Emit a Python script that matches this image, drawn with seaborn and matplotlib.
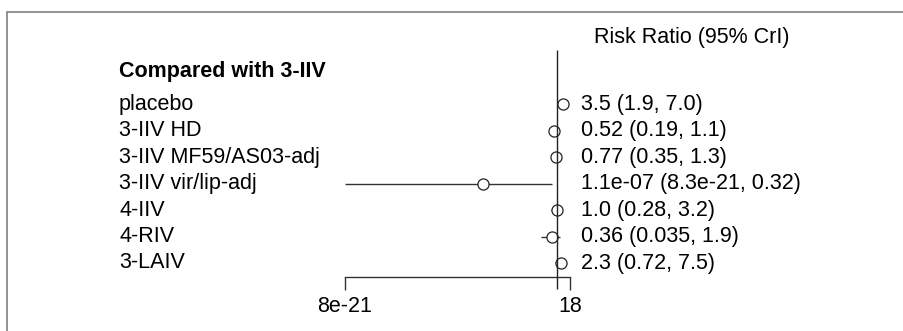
import matplotlib
matplotlib.use("Agg")
import matplotlib.pyplot as plt
from matplotlib.lines import Line2D
import matplotlib.transforms as mtransforms
import seaborn as sns
import pandas as pd
import numpy as np

# ---- data ----
treatments = ["placebo", "3-IIV HD", "3-IIV MF59/AS03-adj", "3-IIV vir/lip-adj",
              "4-IIV", "4-RIV", "3-LAIV"]
rr = [3.5, 0.52, 0.77, 1.1e-07, 1.0, 0.36, 2.3]
lower = [1.9, 0.19, 0.35, 8.3e-21, 0.28, 0.035, 0.72]
upper = [7.0, 1.1, 1.3, 0.32, 3.2, 1.9, 7.5]
value_labels = ["3.5 (1.9, 7.0)", "0.52 (0.19, 1.1)", "0.77 (0.35, 1.3)",
                "1.1e-07 (8.3e-21, 0.32)", "1.0 (0.28, 3.2)", "0.36 (0.035, 1.9)",
                "2.3 (0.72, 7.5)"]
group_title = "Compared with 3-IIV"
column_title = "Risk Ratio (95% CrI)"
tick_values = [8e-21, 18]
tick_labels = ["8e-21", "18"]

df = pd.DataFrame({"treatment": treatments, "rr": rr, "lo": lower, "hi": upper,
                   "row": np.arange(len(treatments))})

sns.set_theme(style="white")
plt.rcParams["font.family"] = ["Liberation Sans", "DejaVu Sans"]
FS = 15.5
INK = "#222222"

W, H = 904, 331
fig = plt.figure(figsize=(W / 100, H / 100), dpi=100)
fig.patch.set_facecolor("white")

# layout in pixels
x_lo_px, x_hi_px = 345, 570
row0_px, row_step = 104, 26.5
def prow(p):
    return (p - row0_px) / row_step

ax = fig.add_axes([x_lo_px / W, 0, (x_hi_px - x_lo_px) / W, 1])
ax.set_xscale("log")
ax.set_xlim(tick_values[0], tick_values[1])
ax.set_ylim(prow(H), prow(0))
ax.patch.set_alpha(0)

# CI lines
ax.hlines(df["row"], df["lo"], df["hi"], color="#333333", lw=1.0, zorder=2)
# point estimates
sns.scatterplot(data=df, x="rr", y="row", ax=ax, marker="o", s=64,
                facecolor="white", edgecolor=INK, linewidth=0.9,
                zorder=3, legend=False)
# line of no effect
ax.vlines(1, prow(50), prow(289), color=INK, lw=1.0, zorder=4)

# axis
for s in ["top", "right", "left"]:
    ax.spines[s].set_visible(False)
ax.spines["bottom"].set_position(("data", prow(277)))
ax.spines["bottom"].set_bounds(tick_values[0], tick_values[1])
ax.spines["bottom"].set_color("#333333")
ax.spines["bottom"].set_linewidth(1.0)
ax.set_xticks(tick_values)
ax.set_xticklabels(tick_labels, fontsize=FS, color="black")
ax.minorticks_off()
ax.tick_params(axis="x", direction="out", length=9, width=1.0, color="#333333",
               pad=4.5, bottom=True)
ax.set_yticks([])
ax.set_xlabel("")
ax.set_ylabel("")

# texts
tr = mtransforms.blended_transform_factory(fig.transFigure, ax.transData)
for i, (t, v) in enumerate(zip(treatments, value_labels)):
    fig.text(119 / W, i, t, transform=tr, fontsize=FS, va="center", ha="left",
             color="black")
    fig.text(581 / W, i, v, transform=tr, fontsize=FS, va="center", ha="left",
             color="black")
fig.text(119 / W, prow(72), group_title, transform=tr, fontsize=FS,
         fontweight="bold", va="center", ha="left", color="black")
fig.text(594 / W, prow(38), column_title, transform=tr, fontsize=FS,
         va="center", ha="left", color="black")

# frame (left and top)
fig.add_artist(Line2D([7 / W, 1], [1 - 12 / H, 1 - 12 / H], transform=fig.transFigure,
                      color="#8a8a8a", lw=1.3))
fig.add_artist(Line2D([7 / W, 7 / W], [0, 1 - 12 / H], transform=fig.transFigure,
                      color="#8a8a8a", lw=1.3))

fig.savefig("out.png", dpi=100)
